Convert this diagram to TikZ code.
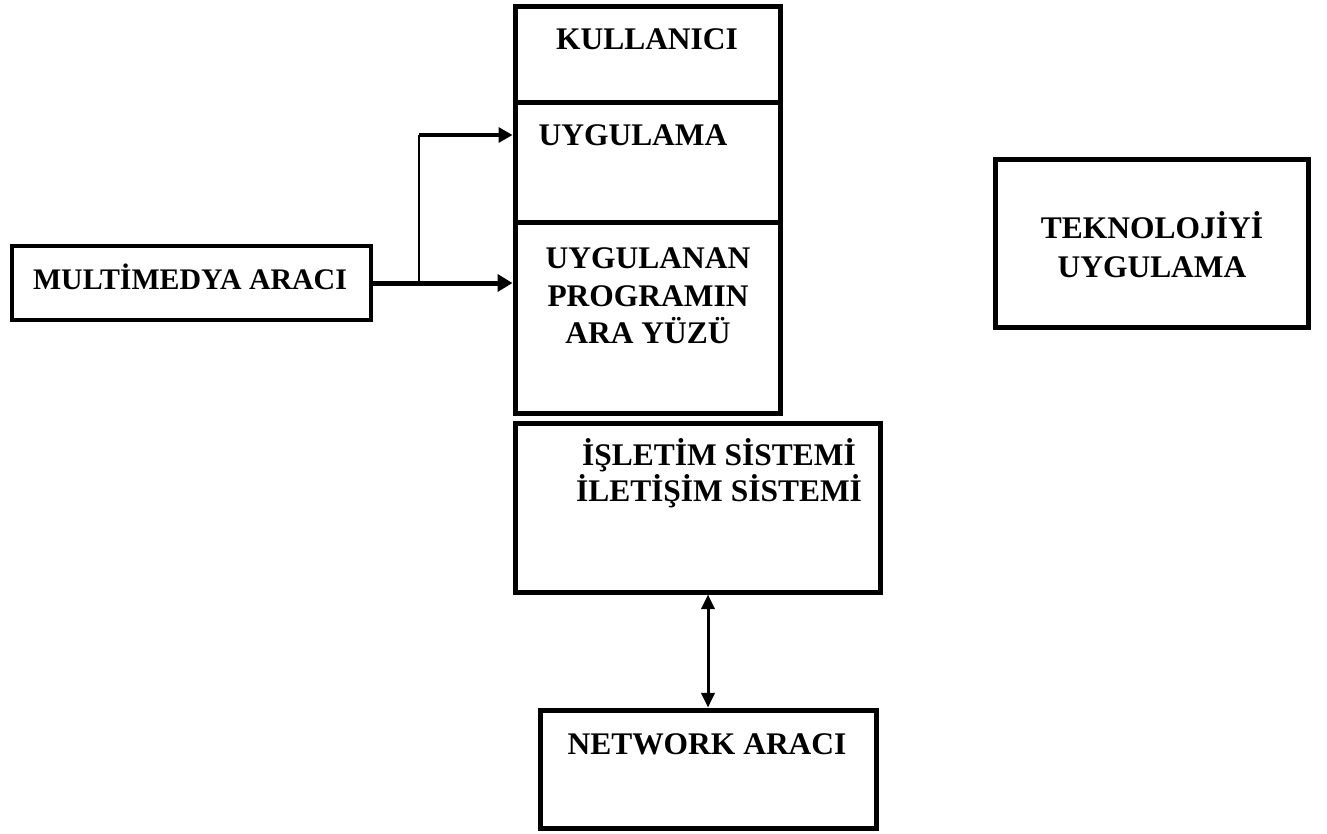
\documentclass[tikz,border=0pt]{standalone}
\usepackage{fontspec}
\setmainfont{Liberation Serif}
\usetikzlibrary{arrows.meta,fit}
\begin{document}
\begin{tikzpicture}[x=0.75pt,y=-0.75pt,
  box/.style={draw, line width=3.75pt, inner sep=0pt},
  thinbox/.style={draw, line width=2.4pt, inner sep=0pt},
  txt/.style={font=\bfseries\fontsize{23.6}{28}\selectfont, inner sep=0pt, anchor=base},
  smalltxt/.style={font=\bfseries\fontsize{22.4}{26}\selectfont, inner sep=0pt, anchor=base},
  mainarrow/.style={line width=3.75pt, -{Triangle[length=11.25pt,width=12.75pt]}},
  toparrow/.style={line width=2.5pt, -{Triangle[length=10.5pt,width=11.25pt]}},
  branchline/.style={line width=1.5pt},
  netarrow/.style={line width=2.25pt, {Triangle[length=11pt,width=10pt]}-{Triangle[length=11pt,width=10pt]}}
]
\useasboundingbox (0,0) rectangle (1327,833);

% boxes
\node[box, fit={(515,6) (780,102)}] (kul) {};
\node[box, fit={(515,102) (780,222)}] (uyg) {};
\node[box, fit={(515,222) (780,413)}] (ara) {};
\node[box, fit={(515,423) (880,592)}] (isl) {};
\node[box, fit={(540,710) (876,828)}] (net) {};
\node[thinbox, fit={(12,246) (371,320)}] (mul) {};
\node[box, fit={(995,159) (1308,327)}] (tek) {};

% texts
\node[txt] (tkul) at (647,49) {KULLANICI};
\node[txt] (tuyg) at (633,145) {UYGULAMA};
\node[txt] (tara1) at (648,268) {UYGULANAN};
\node[txt] (tara2) at (648,306) {PROGRAMIN};
\node[txt] (tara3) at (648,343) {ARA YÜZÜ};
\node[txt] (tisl1) at (719,465) {İŞLETİM SİSTEMİ};
\node[txt] (tisl2) at (719,501) {İLETİŞİM SİSTEMİ};
\node[txt] (tnet) at (707,754) {NETWORK ARACI};
\node[txt] (ttek1) at (1152,238) {TEKNOLOJİYİ};
\node[txt] (ttek2) at (1152,277) {UYGULAMA};
\node[smalltxt] (tmul) at (190,289) {MULTİMEDYA ARACI};

% connectors
\draw[mainarrow] (mul.east) -- (mul.east -| ara.west);
\coordinate (br) at (419,283);
\coordinate (bt) at (419,135);
\draw[branchline] (br) -- (bt);
\draw[toparrow] (bt) -- (bt -| uyg.west);
\coordinate (ax) at (708,650);
\draw[netarrow] (isl.south -| ax) -- (net.north -| ax);
\end{tikzpicture}
\end{document}
